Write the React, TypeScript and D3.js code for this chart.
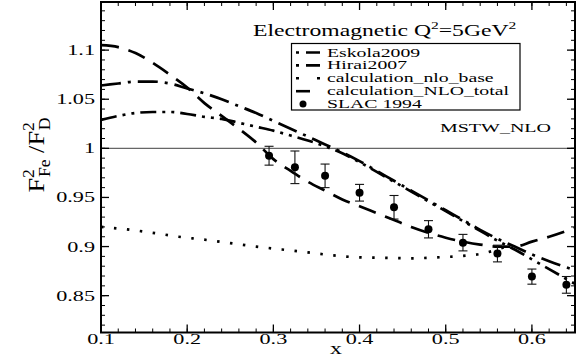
import React from 'react';
import * as d3 from 'd3';

// curve samples
const totalX = [0.1, 0.12, 0.14, 0.16, 0.18, 0.2, 0.22, 0.24, 0.26, 0.28, 0.3, 0.32, 0.34, 0.36, 0.38, 0.4, 0.42, 0.44, 0.46, 0.48, 0.5, 0.52, 0.54, 0.56, 0.58, 0.6, 0.62, 0.65];
const totalY = [1.105, 1.103, 1.097, 1.087, 1.075, 1.062, 1.046, 1.033, 1.02, 1.006, 0.989, 0.977, 0.966, 0.957, 0.948, 0.941, 0.934, 0.927, 0.92, 0.914, 0.909, 0.905, 0.902, 0.9, 0.9, 0.905, 0.91, 0.919];

const eskolaX = [0.1, 0.12, 0.14, 0.16, 0.18, 0.2, 0.22, 0.24, 0.26, 0.28, 0.3, 0.32, 0.34, 0.36, 0.38, 0.4, 0.42, 0.44, 0.46, 0.48, 0.5, 0.52, 0.54, 0.56, 0.58, 0.6, 0.62, 0.65];
const eskolaY = [1.064, 1.066, 1.068, 1.068, 1.066, 1.061, 1.056, 1.05, 1.043, 1.036, 1.028, 1.02, 1.012, 1.004, 0.996, 0.987, 0.977, 0.967, 0.957, 0.947, 0.937, 0.927, 0.917, 0.908, 0.9, 0.892, 0.885, 0.876];

const hiraiX = [0.1, 0.12, 0.14, 0.16, 0.18, 0.2, 0.22, 0.24, 0.26, 0.28, 0.3, 0.32, 0.34, 0.36, 0.38, 0.4, 0.42, 0.44, 0.46, 0.48, 0.5, 0.52, 0.54, 0.56, 0.58, 0.6, 0.62, 0.65];
const hiraiY = [1.029, 1.033, 1.036, 1.037, 1.037, 1.035, 1.032, 1.03, 1.026, 1.022, 1.018, 1.013, 1.008, 1.002, 0.995, 0.986, 0.976, 0.966, 0.956, 0.946, 0.936, 0.926, 0.916, 0.906, 0.897, 0.887, 0.877, 0.862];

const baseX = [0.1, 0.13, 0.16, 0.19, 0.22, 0.25, 0.28, 0.31, 0.34, 0.37, 0.4, 0.43, 0.46, 0.49, 0.52, 0.54, 0.56, 0.57];
const baseY = [0.92, 0.9175, 0.914, 0.91, 0.907, 0.9035, 0.9, 0.897, 0.894, 0.891, 0.889, 0.8885, 0.888, 0.889, 0.8905, 0.8925, 0.897, 0.9];

const slacX = [0.295, 0.325, 0.36, 0.4, 0.44, 0.48, 0.52, 0.56, 0.6, 0.64];
const slacY = [0.9925, 0.9807, 0.972, 0.9548, 0.94, 0.9176, 0.904, 0.8929, 0.8694, 0.861];
const slacErr = [0.0096, 0.0166, 0.012, 0.0085, 0.012, 0.0088, 0.0084, 0.0085, 0.0077, 0.0085];

const xMajor = [0.1, 0.2, 0.3, 0.4, 0.5, 0.6];
const yMajor = [0.85, 0.9, 0.95, 1, 1.05, 1.1];
const yLabels = ['0.85', '0.9', '0.95', '1', '1.05', '1.1'];

const W = 577;
const H = 356;
const FONT = 'Liberation Serif';
const SX = 1.48;

const x = d3.scaleLinear().domain([0.1, 0.65]).range([101, 575]);
const y = d3.scaleLinear().domain([0.8125, 1.149]).range([332.5, 2]);

type Pt = [number, number];
const zip = (xs: number[], ys: number[]): Pt[] => xs.map((v, i) => [v, ys[i]]);

const line = d3.line<Pt>()
  .x(d => x(d[0]))
  .y(d => y(d[1]))
  .curve(d3.curveMonotoneX);

const series = [
  { name: 'Eskola2009', pts: zip(eskolaX, eskolaY), dash: '20,7,3,7', legendDash: '3,7,14,100' },
  { name: 'Hirai2007', pts: zip(hiraiX, hiraiY), dash: '16,6,3,6,3,6', legendDash: '3,7,14,100' },
  { name: 'calculation_nlo_base', pts: zip(baseX, baseY), dash: '2.5,10.5', legendDash: '3,18,3,100' },
  { name: 'calculation_NLO_total', pts: zip(totalX, totalY), dash: '18,10', legendDash: '14,100' },
];

const Txt: React.FC<{ x: number; y: number; size: number; anchor?: string; sx?: number; children: React.ReactNode }> =
  ({ x: tx, y: ty, size, anchor = 'start', sx = SX, children }) => (
    <text
      transform={`translate(${tx},${ty}) scale(${sx},1)`}
      fontSize={size}
      fontFamily={FONT}
      textAnchor={anchor}
      fill="#000"
    >
      {children}
    </text>
  );

export default function App() {
  const [x0, x1] = x.range();
  const [yb, yt] = y.range();
  const xMinor = d3.range(0.1, 0.651, 0.02);
  const yMinor = d3.range(0.82, 1.149, 0.01);

  const legendTop = 43.5;
  const rowH = 12.9;

  return (
    <svg width={W} height={H} style={{ position: 'absolute', left: 0, top: 0, background: '#fff' }}>
      <rect width={W} height={H} fill="#fff" />

      {/* reference line at 1 */}
      <line x1={x0} x2={x1} y1={y(1)} y2={y(1)} stroke="#666" strokeWidth={1.2} />

      {/* curves */}
      {series.map(s => (
        <path key={s.name} d={line(s.pts) || ''} fill="none" stroke="#000" strokeWidth={2.7}
          strokeDasharray={s.dash} />
      ))}

      {/* SLAC points */}
      {slacX.map((v, i) => {
        const cx = x(v);
        const top = y(slacY[i] + slacErr[i]);
        const bot = y(slacY[i] - slacErr[i]);
        return (
          <g key={`p-${i}`} stroke="#111" strokeWidth={1.1}>
            <line x1={cx} x2={cx} y1={top} y2={bot} />
            <line x1={cx - 4.5} x2={cx + 4.5} y1={top} y2={top} />
            <line x1={cx - 4.5} x2={cx + 4.5} y1={bot} y2={bot} />
            <circle cx={cx} cy={y(slacY[i])} r={4} fill="#000" stroke="none" />
          </g>
        );
      })}

      {/* frame */}
      <rect x={x0} y={yt} width={x1 - x0} height={yb - yt} fill="none" stroke="#000" strokeWidth={2} />

      {/* ticks */}
      {xMinor.map(t => (
        <g key={`xm-${t}`} stroke="#000" strokeWidth={1}>
          <line x1={x(t)} x2={x(t)} y1={yb} y2={yb - 4} />
          <line x1={x(t)} x2={x(t)} y1={yt} y2={yt + 4} />
        </g>
      ))}
      {xMajor.map(t => (
        <g key={`xM-${t}`} stroke="#000" strokeWidth={1.3}>
          <line x1={x(t)} x2={x(t)} y1={yb} y2={yb - 8} />
          <line x1={x(t)} x2={x(t)} y1={yt} y2={yt + 8} />
        </g>
      ))}
      {yMinor.map(t => (
        <g key={`ym-${t}`} stroke="#000" strokeWidth={1}>
          <line x1={x0} x2={x0 + 4} y1={y(t)} y2={y(t)} />
          <line x1={x1} x2={x1 - 4} y1={y(t)} y2={y(t)} />
        </g>
      ))}
      {yMajor.map(t => (
        <g key={`yM-${t}`} stroke="#000" strokeWidth={1.3}>
          <line x1={x0} x2={x0 + 8} y1={y(t)} y2={y(t)} />
          <line x1={x1} x2={x1 - 8} y1={y(t)} y2={y(t)} />
        </g>
      ))}

      {/* tick labels */}
      {xMajor.map(t => (
        <Txt key={`xl-${t}`} x={x(t)} y={344} size={15} anchor="middle">{String(t)}</Txt>
      ))}
      {yMajor.map((t, i) => (
        <Txt key={`yl-${t}`} x={95} y={y(t) + 5} size={15} anchor="end">{yLabels[i]}</Txt>
      ))}

      {/* axis titles */}
      <Txt x={336} y={354} size={16} anchor="middle">x</Txt>
      <text transform="translate(44,155) scale(1.45,1) rotate(-90) scale(1.6,1)" fontSize={16.5}
        fontFamily={FONT} textAnchor="middle">
        F<tspan fontSize={11} dy={-7}>2</tspan><tspan fontSize={11} dx={-5} dy={11}>Fe</tspan>
        <tspan dy={-4}> /F</tspan><tspan fontSize={11} dy={-7}>2</tspan>
        <tspan fontSize={11} dx={-5} dy={11}>D</tspan>
      </text>

      {/* title */}
      <Txt x={253} y={36} size={16}>
        Electromagnetic  Q<tspan fontSize={10.5} dy={-7}>2</tspan><tspan dy={7}>=5GeV</tspan>
        <tspan fontSize={10.5} dy={-7}>2</tspan>
      </Txt>

      {/* legend */}
      <rect x={291.5} y={legendTop} width={228.5} height={66.5} fill="#fff" stroke="#000" strokeWidth={1.2} />
      {series.map((s, i) => {
        const ly = legendTop + 9 + i * rowH;
        return (
          <g key={`lg-${s.name}`}>
            <line x1={296} x2={320} y1={ly} y2={ly} stroke="#000" strokeWidth={2.6}
              strokeDasharray={s.legendDash} />
            <Txt x={327} y={ly + 4} size={12.5} sx={1.58}>{s.name}</Txt>
          </g>
        );
      })}
      <circle cx={303} cy={legendTop + 9 + 4 * rowH} r={3.5} fill="#000" />
      <Txt x={327} y={legendTop + 13 + 4 * rowH} size={12.5} sx={1.58}>SLAC 1994</Txt>

      <Txt x={440} y={132} size={13.5}>MSTW_NLO</Txt>
    </svg>
  );
}
